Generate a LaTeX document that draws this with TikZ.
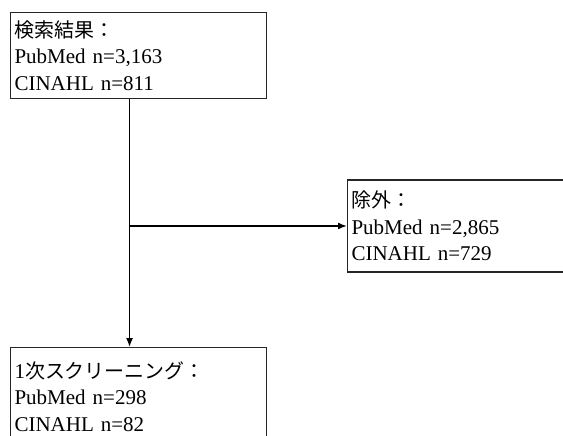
\documentclass[tikz,border=0pt]{standalone}
\usepackage{fontspec}
\setmainfont{Liberation Serif}
\newfontfamily\jp[Scale=0.95]{Noto Sans CJK JP}
\usepackage{tikz}
\usetikzlibrary{positioning}
\usetikzlibrary{arrows.meta}

\begin{document}
\begin{tikzpicture}[x=1pt, y=1pt,
    box/.style={rectangle, draw=black!85, line width=1.1pt, text width=248pt, align=left,
      inner xsep=4pt, inner ysep=0pt, font=\fontsize{21pt}{26.5pt}\selectfont},
    flow/.style={-{Latex[length=9pt,width=7pt]}, line width=1.6pt}]

    \clip (0,0) rectangle (563,436);

    % Define nodes
    \node[box, minimum height=86pt, anchor=north west] (search) at (10,424) {{\jp 検索結果：}\\PubMed n=3,163\\CINAHL n=811};
    \node[box, minimum height=98pt, below=248pt of search] (screen) {1{\jp 次スクリーニング：}\\PubMed n=298\\CINAHL n=82};
    \node[box, minimum height=92pt, anchor=west] (exclude) at (347,210) {{\jp 除外：}\\PubMed n=2,865\\CINAHL n=729};
    \coordinate (trunk) at ([xshift=-9pt]search.south);
    \coordinate (branch) at (trunk |- exclude.west);

    % Connect the nodes
    \draw[flow] (trunk) -- (trunk |- screen.north);
    \draw[flow] (branch) -- (exclude.west);

\end{tikzpicture}
\end{document}
